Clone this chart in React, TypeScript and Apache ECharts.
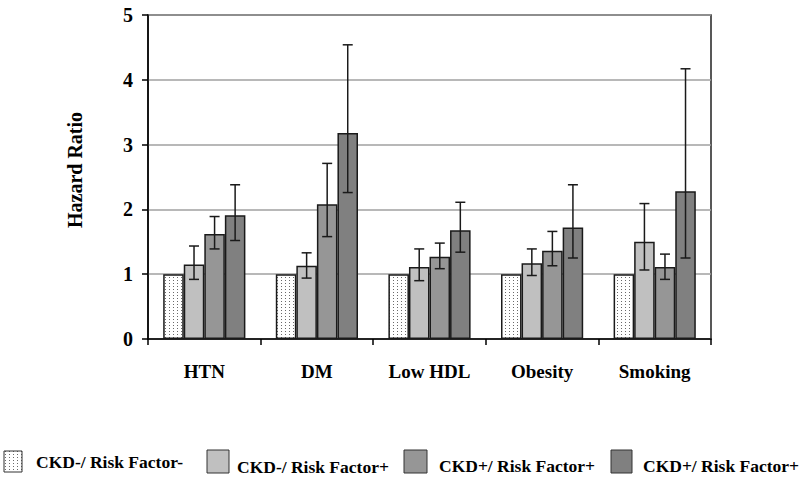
import React, { useEffect, useRef } from 'react';
import * as echarts from 'echarts';

const categories = ['HTN', 'DM', 'Low HDL', 'Obesity', 'Smoking'];
const seriesNames = ['CKD-/ Risk Factor-', 'CKD-/ Risk Factor+', 'CKD+/ Risk Factor+', 'CKD+/ Risk Factor+'];
const refValues = [1, 1, 1, 1, 1];
const riskPlusValues = [1.15, 1.13, 1.11, 1.17, 1.5];
const riskPlusLow = [0.92, 0.94, 0.9, 0.98, 1.065];
const riskPlusHigh = [1.435, 1.33, 1.39, 1.39, 2.09];
const ckdValues = [1.62, 2.08, 1.27, 1.36, 1.11];
const ckdLow = [1.39, 1.58, 1.085, 1.13, 0.92];
const ckdHigh = [1.89, 2.71, 1.48, 1.66, 1.31];
const bothValues = [1.91, 3.18, 1.68, 1.72, 2.28];
const bothLow = [1.52, 2.26, 1.34, 1.25, 1.25];
const bothHigh = [2.38, 4.54, 2.11, 2.38, 4.17];
const yMin = 0;
const yMax = 5;
const yInterval = 1;

const FONT = "'Liberation Serif', 'Times New Roman', serif";
const GAP = 0.27;
const barColors = ['#c0c0c0', '#969696', '#808080'];

export default function App() {
  const ref = useRef<HTMLDivElement>(null);
  useEffect(() => {
    if (!ref.current) return;
    const chart = echarts.init(ref.current, null, { renderer: 'svg' });

    const cv = document.createElement('canvas');
    cv.width = 4;
    cv.height = 3;
    const ctx = cv.getContext('2d')!;
    ctx.fillStyle = '#ffffff';
    ctx.fillRect(0, 0, 4, 3);
    ctx.fillStyle = '#6a6a6a';
    ctx.fillRect(1, 1, 1, 1);
    const dotted: any = { image: cv, repeat: 'repeat' };

    const values = [refValues, riskPlusValues, ckdValues, bothValues];
    const errs = [null, [riskPlusLow, riskPlusHigh], [ckdLow, ckdHigh], [bothLow, bothHigh]];
    const fills = [dotted, ...barColors];

    const barSeries = values.map((v, i) => ({
      type: 'bar',
      name: seriesNames[i] + (i === 3 ? ' ' : ''),
      data: v,
      barGap: '0%',
      barCategoryGap: (GAP * 100) + '%',
      itemStyle: { color: fills[i], borderColor: '#1a1a1a', borderWidth: 1.5 },
      z: 2,
    }));

    const errSeries: any[] = [];
    errs.forEach((e, i) => {
      if (!e) return;
      const data = categories.map((_, k) => [k, e[0][k], e[1][k]]);
      errSeries.push({
        type: 'custom',
        data,
        encode: { x: 0, y: [1, 2] },
        z: 5,
        renderItem: (params: any, api: any) => {
          const cat = api.value(0);
          const lo = api.coord([cat, api.value(1)]);
          const hi = api.coord([cat, api.value(2)]);
          const band = api.size([1, 0])[0];
          const groupW = band * (1 - GAP);
          const barW = groupW / 4;
          const x = lo[0] - groupW / 2 + barW * (i + 0.5);
          const c = 5;
          const st = { stroke: '#1a1a1a', lineWidth: 1.5 };
          return {
            type: 'group',
            children: [
              { type: 'line', shape: { x1: x, y1: lo[1], x2: x, y2: hi[1] }, style: st },
              { type: 'line', shape: { x1: x - c, y1: lo[1], x2: x + c, y2: lo[1] }, style: st },
              { type: 'line', shape: { x1: x - c, y1: hi[1], x2: x + c, y2: hi[1] }, style: st },
            ],
          };
        },
      });
    });

    const legendBoxes = [
      { x: 4, y: 451, w: 18, h: 21, tx: 36, ty: 462 },
      { x: 207, y: 450, w: 22, h: 23, tx: 237, ty: 467 },
      { x: 404, y: 450, w: 23, h: 23, tx: 439, ty: 466 },
      { x: 611, y: 450, w: 21, h: 23, tx: 643, ty: 466 },
    ];
    const legendGraphics: any[] = [];
    legendBoxes.forEach((b, i) => {
      legendGraphics.push({
        type: 'rect',
        shape: { x: b.x, y: b.y, width: b.w, height: b.h },
        style: { fill: fills[i], stroke: '#333', lineWidth: 1 },
      });
      legendGraphics.push({
        type: 'text',
        x: b.tx,
        y: b.ty,
        style: {
          text: seriesNames[i],
          fill: '#000',
          fontFamily: FONT,
          fontWeight: 'bold',
          fontSize: 17.5,
          align: 'left',
          verticalAlign: 'middle',
        },
      });
    });

    chart.setOption({
      animation: false,
      backgroundColor: '#ffffff',
      grid: {
        left: 148, right: 89, top: 15, bottom: 146,
        show: true, borderColor: '#222', borderWidth: 1.5, backgroundColor: 'transparent',
      },
      xAxis: {
        type: 'category',
        data: categories,
        axisLine: { lineStyle: { color: '#000', width: 1.5 } },
        axisTick: { show: true, length: 6, lineStyle: { color: '#000', width: 1.5 } },
        axisLabel: { color: '#000', fontFamily: FONT, fontWeight: 'bold', fontSize: 19, margin: 23 },
      },
      yAxis: {
        type: 'value',
        min: yMin,
        max: yMax,
        interval: yInterval,
        axisLine: { show: true, lineStyle: { color: '#000', width: 1.5 } },
        axisTick: { show: true, length: 6, lineStyle: { color: '#000', width: 1.5 } },
        axisLabel: { color: '#000', fontFamily: FONT, fontWeight: 'bold', fontSize: 20, margin: 15 },
        splitLine: { show: true, lineStyle: { color: '#a0a0a0', width: 1.5 } },
      },
      graphic: [
        {
          type: 'text',
          x: 75,
          y: 170,
          rotation: Math.PI / 2,
          style: {
            text: 'Hazard Ratio',
            fill: '#000',
            fontFamily: FONT,
            fontWeight: 'bold',
            fontSize: 20,
            align: 'center',
            verticalAlign: 'middle',
          },
        },
        ...legendGraphics,
      ],
      series: [...barSeries, ...errSeries],
    });

    return () => chart.dispose();
  }, []);
  return <div ref={ref} style={{ width: 800, height: 485, position: 'absolute', left: 0, top: 0 }} />;
}
